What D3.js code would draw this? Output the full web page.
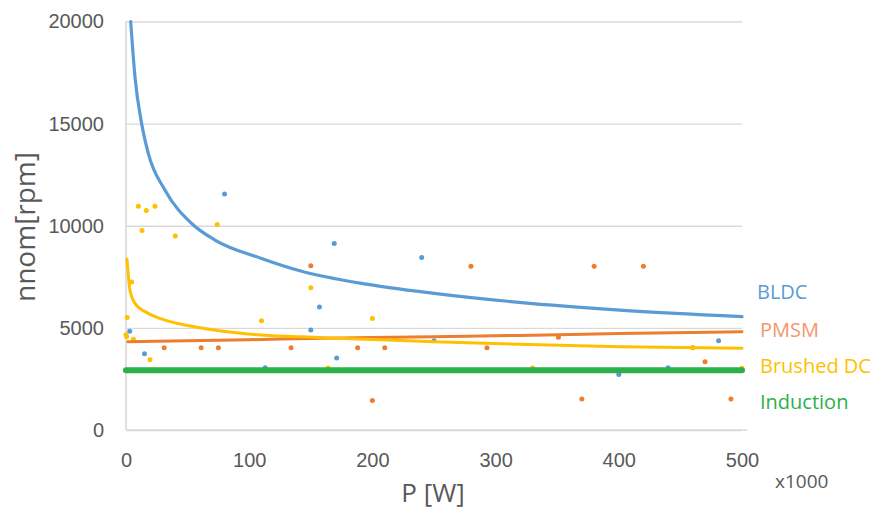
<!DOCTYPE html>
<html>
<head>
<meta charset="utf-8">
<script src="https://cdn.jsdelivr.net/npm/d3@7"></script>
<style>
  html, body { margin: 0; padding: 0; background: #fff; }
  svg { display: block; font-family: "Open Sans", "DejaVu Sans", sans-serif; }
</style>
</head>
<body>
<div id="chart"></div>
<script>
// Axis ticks
const xTicks = [0, 100, 200, 300, 400, 500];
const yTicks = [0, 5000, 10000, 15000, 20000];

// Series names and colours
const seriesNames = ["BLDC", "PMSM", "Brushed DC", "Induction"];
const seriesColors = ["#5B9BD5", "#ED7D31", "#FFC000", "#2BB04A"];
const labelColors = ["#5B9BD5", "#F4976C", "#FFC000", "#2BB04A"];

// Measured motors: [P (x1000 W), nnom (rpm)]
const bldcPoints = [[3, 4840], [15, 3730], [80, 11550], [113, 3050], [150, 4890],
  [157, 6020], [169, 9130], [171, 3520], [240, 8450], [250, 4370],
  [400, 2720], [440, 3050], [481, 4370]];
const pmsmPoints = [[31, 4030], [61, 4030], [75, 4030], [134, 4030], [150, 8040],
  [188, 4030], [200, 1440], [210, 4030], [280, 8020], [293, 4030],
  [351, 4540], [370, 1520], [380, 8020], [420, 8020], [460, 4030],
  [470, 3340], [491, 1520]];
const brushedPoints = [[0, 4660], [0.5, 4570], [1, 5510], [4.6, 7250], [6, 4440],
  [10, 10960], [13, 9770], [16.5, 10750], [19.5, 3440], [23.5, 10960],
  [40, 9500], [74, 10060], [110, 5350], [150, 6960], [164, 3030],
  [200, 5460], [330, 3030], [460, 4030], [500, 3020]];

// Trend lines: [P, nnom]
const bldcTrend = [[3.8, 20000], [7.3, 17280], [12.7, 15000], [18.1, 13540], [31.7, 11740],
  [53.3, 10110], [72.2, 9300], [110, 8400], [141, 7800], [195, 7140],
  [250, 6690], [319, 6250], [401, 5870], [500, 5550]];
const pmsmTrend = [[1.4, 4320], [50, 4370], [100, 4420], [150, 4480], [200, 4530],
  [250, 4570], [320, 4630], [400, 4720], [500, 4810]];
const brushedTrend = [[0.8, 8370], [3.2, 6850], [7.3, 6200], [18.1, 5710], [31.7, 5380],
  [58.7, 5020], [99.3, 4700], [141, 4560], [195, 4440], [250, 4320],
  [319, 4200], [401, 4080], [500, 4000]];
const inductionTrend = [[0, 2920], [500, 2920]];

const width = 872, height = 510;
const margin = { left: 126, right: 130, top: 21.5, bottom: 80 };

const x = d3.scaleLinear().domain([0, 500]).range([margin.left, width - margin.right]);
const y = d3.scaleLinear().domain([0, 20000]).range([height - margin.bottom, margin.top]);

const svg = d3.select("#chart").append("svg")
  .attr("width", width)
  .attr("height", height)
  .attr("viewBox", [0, 0, width, height]);

// Gridlines + y labels
svg.append("g")
  .attr("transform", `translate(${margin.left},0)`)
  .call(d3.axisLeft(y).tickValues(yTicks).tickFormat(d3.format("d"))
    .tickSize(-(x(500) - margin.left)).tickPadding(22))
  .call(g => g.select(".domain").remove())
  .call(g => g.selectAll(".tick line").attr("stroke", "#D9D9D9").attr("stroke-width", 1.3))
  .call(g => g.selectAll(".tick text")
    .attr("fill", "#595959").attr("font-size", 20));

// Left axis line
svg.append("line")
  .attr("x1", x(0)).attr("x2", x(0))
  .attr("y1", y(20000)).attr("y2", y(0))
  .attr("stroke", "#D9D9D9").attr("stroke-width", 1.6);

// X axis
svg.append("g")
  .attr("transform", `translate(0,${y(0)})`)
  .call(d3.axisBottom(x).tickValues(xTicks).tickSize(0).tickPadding(23))
  .call(g => g.select(".domain").attr("stroke", "#D9D9D9").attr("stroke-width", 1.6)
    .attr("d", `M${x(0)},0H${x(500) + 5}`))
  .call(g => g.selectAll(".tick text")
    .attr("fill", "#595959").attr("font-size", 20));

svg.append("text")
  .attr("x", 775).attr("y", 488)
  .attr("fill", "#595959").attr("font-size", 19)
  .text("x1000");

// Axis titles
svg.append("text")
  .attr("x", 433).attr("y", 502)
  .attr("text-anchor", "middle")
  .attr("fill", "#595959").attr("font-size", 26)
  .text("P [W]");

svg.append("text")
  .attr("transform", "translate(35,227) rotate(-90)")
  .attr("text-anchor", "middle")
  .attr("fill", "#595959").attr("font-size", 28)
  .text("nnom[rpm]");

const line = d3.line()
  .x(d => x(d[0]))
  .y(d => y(d[1]))
  .curve(d3.curveMonotoneX);

// Scatter points
const pointSets = [bldcPoints, pmsmPoints, brushedPoints];
pointSets.forEach((pts, i) => {
  svg.append("g").selectAll("circle")
    .data(pts)
    .join("circle")
      .attr("cx", d => x(d[0]))
      .attr("cy", d => y(d[1]))
      .attr("r", 2.5)
      .attr("fill", seriesColors[i]);
});

// Trend lines
const trends = [bldcTrend, pmsmTrend, brushedTrend, inductionTrend];
const widths = [3.2, 3, 3, 6];
trends.forEach((t, i) => {
  svg.append("path")
    .datum(t)
    .attr("fill", "none")
    .attr("stroke", seriesColors[i])
    .attr("stroke-width", widths[i])
    .attr("stroke-linecap", "round")
    .attr("d", line);
});

// Series labels on the right
const labelPos = [[757, 299], [760, 337], [760, 373], [760, 409]];
svg.append("g").selectAll("text")
  .data(seriesNames)
  .join("text")
    .attr("x", (d, i) => labelPos[i][0])
    .attr("y", (d, i) => labelPos[i][1])
    .attr("fill", (d, i) => labelColors[i])
    .attr("font-size", 20)
    .text(d => d);
</script>
</body>
</html>
